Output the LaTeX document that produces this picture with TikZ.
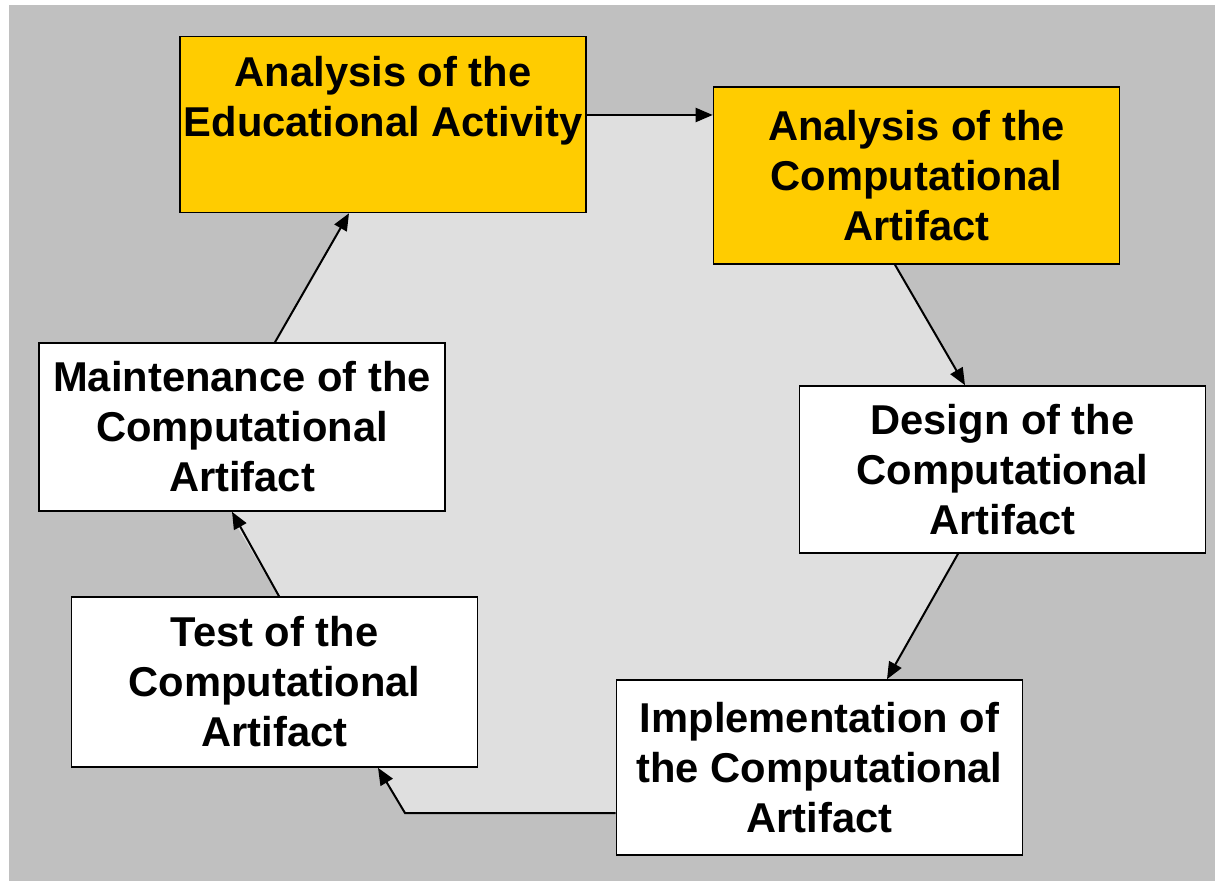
\documentclass[tikz,border=0pt]{standalone}
\usepackage{fontspec}
\setmainfont{Liberation Sans}
\usetikzlibrary{arrows.meta}
\definecolor{bggray}{HTML}{C0C0C0}
\definecolor{innergray}{HTML}{DFDFDF}
\definecolor{boxyellow}{HTML}{FFCC00}
\tikzset{
  stagebox/.style={draw=black, line width=1.6pt, fill=white, rectangle,
    minimum width=406pt, inner sep=0pt, align=center,
    font=\fontsize{41.7}{50}\selectfont\bfseries},
  hotbox/.style={stagebox, fill=boxyellow},
  arr/.style={draw=black, line width=2pt, -{Triangle[length=17pt,width=14pt]}}
}
\begin{document}
\begin{tikzpicture}[x=1pt,y=-1pt]
\useasboundingbox (0,0) rectangle (1215,881);
\fill[bggray] (9,5) rectangle (1215,881);
\fill[innergray] (587,115) -- (713,115) -- (895,264) -- (965,384) -- (958,553)
  -- (887,680) -- (615,813) -- (405,813) -- (378,768) -- (279,597)
  -- (232,518) -- (275,343) -- (349,213) -- cycle;

\node[hotbox, minimum height=176pt] (b1) at (383,124.5) {Analysis of the\\Educational Activity\\\rule[-7pt]{0pt}{7pt}};
\node[hotbox, minimum height=177pt] (b2) at (916.5,175.5) {Analysis of the\\Computational\\Artifact};
\node[stagebox, minimum height=167pt] (b3) at (1002.5,469.5) {Design of the\\Computational\\Artifact};
\node[stagebox, minimum height=175pt] (b4) at (819.5,767.5) {Implementation of\\the Computational\\Artifact};
\node[stagebox, minimum height=170pt] (b5) at (274.5,682) {Test of the\\Computational\\Artifact};
\node[stagebox, minimum height=168pt] (b6) at (242,427) {Maintenance of the\\Computational\\Artifact};

\coordinate (p1) at ([yshift=9.5pt]b1.east);
\draw[arr] (p1) -- (p1 -| b2.west);
\draw[arr] ([xshift=-21.5pt]b2.south) -- ([xshift=-37.5pt]b3.north);
\draw[arr] ([xshift=-44.5pt]b3.south) -- ([xshift=67.5pt]b4.north);
\coordinate (p4) at ([yshift=-45.5pt]b4.west);
\coordinate (k4) at (405,813);
\draw[arr] (p4) -- (k4) -- ([xshift=103.5pt]b5.south);
\draw[arr] ([xshift=4.5pt]b5.north) -- ([xshift=-10pt]b6.south);
\draw[arr] ([xshift=33pt]b6.north) -- ([xshift=-34pt]b1.south);
\end{tikzpicture}
\end{document}
